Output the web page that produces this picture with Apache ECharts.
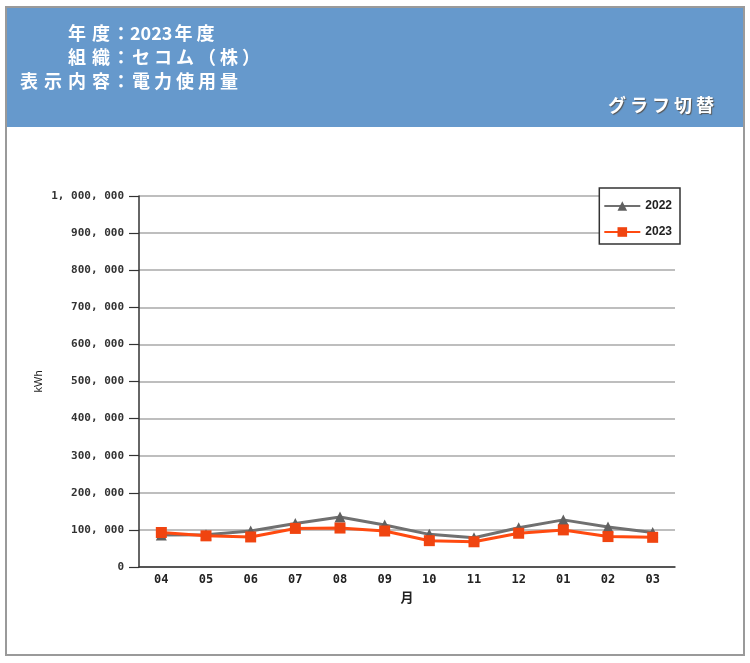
<!DOCTYPE html>
<html>
<head>
<meta charset="utf-8">
<script src="https://cdn.jsdelivr.net/npm/echarts@6/dist/echarts.min.js"></script>
<style>
html,body{margin:0;padding:0;background:#fff;}
#c{width:750px;height:663px;}
</style>
</head>
<body>
<div id="c"></div>
<script>
const months = ['04','05','06','07','08','09','10','11','12','01','02','03'];
const series2022 = [86000, 87000, 97000, 117000, 135000, 113000, 88000, 79000, 106000, 127000, 108000, 93000];
const series2023 = [93000, 84000, 81000, 104000, 105000, 97000, 71000, 68000, 91000, 100000, 82000, 80000];
const seriesNames = ['2022', '2023'];
const headerLabels = ['年度', '組織', '表示内容'];
const headerValues = ['2023年度', 'セコム（株）', '電力使用量'];
const switchLabel = 'グラフ切替';
const yAxisName = 'kWh';
const xAxisName = '月';

function fmt(v){
  return String(v).replace(/\B(?=(\d{3})+(?!\d))/g, ', ');
}

const measureCtx = document.createElement('canvas').getContext('2d');
function spacedText(str, x, y, font, spacing, align, extraStyle){
  measureCtx.font = font;
  const chars = Array.from(str);
  const widths = chars.map(ch => measureCtx.measureText(ch).width + (ch.charCodeAt(0) > 0x2E80 ? spacing : 0));
  const total = widths.reduce((a,b)=>a+b,0);
  let cx = align === 'right' ? x - total : x;
  const out = [];
  chars.forEach((ch,i)=>{
    const sp = ch.charCodeAt(0) > 0x2E80 ? spacing : 0;
    out.push({type:'text', x:cx + sp/2, y:y, silent:true,
      style:Object.assign({text:ch, font:font, fill:'#fff', align:'left', verticalAlign:'middle'}, extraStyle||{})});
    cx += widths[i];
  });
  return out;
}

const chart = echarts.init(document.getElementById('c'), null, {renderer:'canvas'});

const headerFont = 'bold 18px "Noto Sans CJK JP"';
const rowsY = [33, 57, 81];
let graphics = [
  {type:'rect', shape:{x:6, y:7, width:738, height:648}, style:{fill:'#fff', stroke:'#9a9a9a', lineWidth:2}, z:-10, silent:true},
  {type:'rect', shape:{x:7, y:8, width:736, height:119}, style:{fill:'#6699cc'}, z:-9, silent:true}
];
headerLabels.forEach((l,i)=>{
  graphics = graphics.concat(spacedText(l, 113, rowsY[i], headerFont, 6, 'right'));
  graphics.push({type:'text', x:121, y:rowsY[i], style:{text:'：', font:headerFont, fill:'#fff', align:'center', verticalAlign:'middle'}});
  graphics = graphics.concat(spacedText(headerValues[i], 130, rowsY[i], headerFont, 4, 'left'));
});
graphics = graphics.concat(spacedText(switchLabel, 716, 105, 'bold 18px "Noto Sans CJK JP"', 4, 'right',
  {textShadowColor:'#555', textShadowOffsetX:1, textShadowOffsetY:1, textShadowBlur:1}));

chart.setOption({
  animation:false,
  backgroundColor:'transparent',
  graphic: graphics,
  grid:{left:139, right:75, top:196, bottom:96},
  legend:{
    orient:'vertical', right:70, top:188, width:82,
    backgroundColor:'#fff', borderColor:'#333', borderWidth:1.5, borderRadius:0,
    padding:[12,8,6,4], itemGap:14, itemWidth:36, itemHeight:12,
    textStyle:{fontSize:12, color:'#222', fontWeight:'bold', fontFamily:'Liberation Sans'},
    data: seriesNames
  },
  xAxis:{
    type:'category', data:months, boundaryGap:true,
    name:xAxisName, nameLocation:'middle', nameGap:24, nameMoveOverlap:false,
    nameTextStyle:{fontSize:13, fontWeight:'bold', color:'#222', fontFamily:'Noto Sans CJK JP'},
    axisLine:{lineStyle:{color:'#333', width:1.5}},
    axisTick:{show:false},
    axisLabel:{fontSize:12, color:'#222', fontWeight:'bold', margin:7, fontFamily:'DejaVu Sans Mono'}
  },
  yAxis:{
    type:'value', min:0, max:1000000, interval:100000,
    name:yAxisName, nameLocation:'middle', nameGap:95, nameRotate:90, nameMoveOverlap:false,
    nameTextStyle:{fontSize:11, color:'#222', fontFamily:'Liberation Sans'},
    axisLine:{show:true, lineStyle:{color:'#333', width:1.5}},
    axisTick:{show:true, length:10, lineStyle:{color:'#333', width:1.2}},
    axisLabel:{fontSize:11, color:'#333', fontWeight:'bold', margin:15, fontFamily:'DejaVu Sans Mono', formatter:fmt},
    splitLine:{lineStyle:{color:'#a8a8a8', width:1.5}}
  },
  series:[
    {name:seriesNames[0], type:'line', data:series2022, symbol:'triangle', symbolSize:11,
     lineStyle:{color:'#707070', width:3}, itemStyle:{color:'#606060'}, z:2},
    {name:seriesNames[1], type:'line', data:series2023, symbol:'rect', symbolSize:11,
     lineStyle:{color:'#ff4a10', width:3}, itemStyle:{color:'#f04410'}, z:3}
  ]
});
</script>
</body>
</html>
